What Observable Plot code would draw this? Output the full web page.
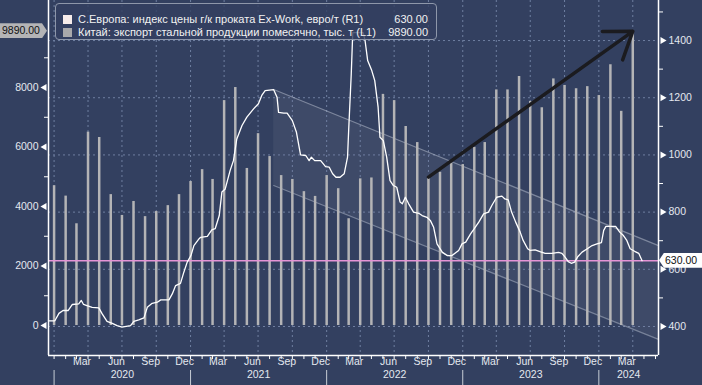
<!DOCTYPE html>
<html><head><meta charset="utf-8">
<script src="https://cdn.jsdelivr.net/npm/d3@7"></script>
<script src="https://cdn.jsdelivr.net/npm/@observablehq/plot@0.6"></script>
<style>
html,body{margin:0;padding:0;background:#334060;}
#wrap{position:relative;width:702px;height:385px;overflow:hidden;font-family:"Liberation Sans",Arial,sans-serif;background:#334060;}
#wrap svg{position:absolute;left:0;top:0;}
#legend{position:absolute;left:55px;top:3px;width:382px;height:37px;box-sizing:border-box;border:1px solid #8e97aa;border-radius:4px;background:rgba(51,64,96,0.82);color:#f2f2f2;font-size:11px;}
.row{position:absolute;left:0;width:380px;height:13px;line-height:13px;white-space:nowrap;}
.sw{position:absolute;left:7px;top:2px;width:9px;height:9px;}
.lab{position:absolute;left:22px;top:0;}
.val{position:absolute;right:8px;top:0;}
.tag{position:absolute;font-size:10.5px;line-height:15px;height:15px;color:#111;box-sizing:border-box;white-space:nowrap;}
</style></head><body><div id="wrap"></div>
<script>
// ---- Data ----
// China steel exports, monthly, thousand t (left axis, L1)
const exportMonths = ["2019-12",
 "2020-01","2020-02","2020-03","2020-04","2020-05","2020-06","2020-07","2020-08","2020-09","2020-10","2020-11","2020-12",
 "2021-01","2021-02","2021-03","2021-04","2021-05","2021-06","2021-07","2021-08","2021-09","2021-10","2021-11","2021-12",
 "2022-01","2022-02","2022-03","2022-04","2022-05","2022-06","2022-07","2022-08","2022-09","2022-10","2022-11","2022-12",
 "2023-01","2023-02","2023-03","2023-04","2023-05","2023-06","2023-07","2023-08","2023-09","2023-10","2023-11","2023-12",
 "2024-01","2024-02","2024-03"];
const exportValues = [4700,
 4350,3420,6500,6320,4400,3700,4170,3660,3830,4030,4400,4840,
 5240,4910,7560,8000,5280,6450,5680,5040,4910,4500,4340,5040,
 4600,3590,4930,4960,7770,7560,6690,6150,4990,5150,5460,5410,
 5990,6150,7920,7920,8370,7530,7320,8290,8070,7960,8030,7730,
 8770,7200,9890];

// N. Europe HRC Ex-Work price index, EUR/t (right axis, R1)
const priceDates = ["2019-12-17","2020-01-03","2020-01-14","2020-01-25","2020-02-08","2020-02-19","2020-03-07","2020-03-14","2020-03-20","2020-03-29",
 "2020-04-12","2020-04-30","2020-05-09","2020-05-22","2020-06-05","2020-06-18","2020-07-01","2020-07-24","2020-08-02","2020-08-15",
 "2020-08-29","2020-09-07","2020-09-20","2020-10-04","2020-10-13","2020-11-04","2020-11-13","2020-11-22","2020-12-05","2020-12-14",
 "2020-12-23","2021-01-02","2021-01-10","2021-01-24","2021-01-28","2021-02-15","2021-02-27","2021-03-08","2021-03-19","2021-03-26",
 "2021-04-04","2021-04-17","2021-04-26","2021-05-05","2021-05-19","2021-06-01","2021-06-19","2021-07-02","2021-07-11","2021-07-20",
 "2021-08-12","2021-08-21","2021-08-25","2021-09-08","2021-09-17","2021-10-01","2021-10-12","2021-10-23","2021-11-06","2021-11-15",
 "2021-11-21","2021-11-30","2021-12-16","2021-12-29","2022-01-08","2022-01-17","2022-01-26","2022-02-06","2022-02-17","2022-02-26",
 "2022-03-01","2022-03-08","2022-03-12","2022-04-09","2022-04-14","2022-04-21","2022-05-02","2022-05-10","2022-05-19","2022-05-24",
 "2022-06-02","2022-06-11","2022-06-20","2022-06-29","2022-07-08","2022-07-17","2022-07-23","2022-07-31","2022-08-09","2022-08-22",
 "2022-09-05","2022-09-14","2022-09-27","2022-10-06","2022-10-15","2022-10-24","2022-11-07","2022-11-20","2022-12-03","2022-12-21",
 "2022-12-30","2023-01-09","2023-01-22","2023-02-01","2023-02-13","2023-02-26","2023-03-11","2023-03-20","2023-04-02","2023-04-16",
 "2023-04-24","2023-05-03","2023-05-12","2023-05-23","2023-06-04","2023-06-12","2023-06-24","2023-07-01","2023-07-14","2023-07-27",
 "2023-08-10","2023-08-28","2023-09-15","2023-09-24","2023-10-03","2023-10-11","2023-10-19","2023-10-28","2023-11-06","2023-11-17",
 "2023-12-01","2023-12-14","2023-12-27","2024-01-08","2024-01-14","2024-01-20","2024-02-15","2024-02-26","2024-03-07","2024-03-16",
 "2024-03-25","2024-04-06","2024-04-17","2024-04-26"];
const priceValues = [420,420,446,456,456,477,479,491,477,473,
 467,465,444,418,411,403,398,403,418,423,
 430,467,481,485,493,493,514,543,551,590,
 625,648,683,707,712,715,738,742,788,870,
 881,945,980,1056,1103,1132,1161,1179,1208,1225,
 1228,1202,1149,1146,1146,1120,1079,1000,998,980,
 992,980,980,959,957,934,922,922,934,992,
 1085,1284,1428,1428,1400,1330,1295,1260,1167,1062,
 1050,992,910,893,887,835,829,852,829,800,
 796,788,782,771,747,689,660,648,648,666,
 689,695,724,742,765,794,800,823,852,856,
 846,843,800,765,730,701,672,666,668,662,
 656,656,659,656,642,627,621,625,645,660,
 672,683,689,693,736,750,750,730,718,701,
 672,663,656,630];

const lastPrice = 630;
const lastExport = 9890;

// Axis ticks
const leftMajor = [0, 2000, 4000, 6000, 8000];
const leftMinor = [1000, 3000, 5000, 7000, 9000];
const rightMajor = [400, 600, 800, 1000, 1200, 1400];
const rightMinor = [500, 700, 900, 1100, 1300, 1500];
const quarterLabels = [
 ["2020-03","Mar"],["2020-06","Jun"],["2020-09","Sep"],["2020-12","Dec"],
 ["2021-03","Mar"],["2021-06","Jun"],["2021-09","Sep"],["2021-12","Dec"],
 ["2022-03","Mar"],["2022-06","Jun"],["2022-09","Sep"],["2022-12","Dec"],
 ["2023-03","Mar"],["2023-06","Jun"],["2023-09","Sep"],["2023-12","Dec"],
 ["2024-03","Mar"]];
const yearLabels = ["2020","2021","2022","2023","2024"];

// Annotations: declining channel (price units) and export trend arrow
const channelDates = ["2021-08-12", "2024-06-09"];
const channelUpper = [1229, 683];
const channelLower = [893, 355];
const arrowFromMonth = "2022-09";
const arrowToMonth = "2024-03";

// ---- Scales setup ----
const parseM = d3.utcParse("%Y-%m");
const parseD = d3.utcParse("%Y-%m-%d");
const xDomain = [parseD("2019-12-17"), parseD("2024-06-09")];
const yDomain = [298.6, 1540];
// left axis (thousand t) aligned onto right axis (EUR/t): R = R0 + K * L
const R0 = 403.5, K = 0.10402;
const toR = L => R0 + K * L;

const bars = exportMonths.map((m, i) => ({month: m, date: d3.utcMonth.offset(parseM(m), 1), value: exportValues[i]}));
const price = priceDates.map((d, i) => ({date: parseD(d), value: priceValues[i]}));
const channel = channelDates.map((d, i) => ({date: parseD(d), upper: channelUpper[i], lower: channelLower[i]}));
const barOf = m => bars.find(b => b.month === m);
const arrowData = [{from: barOf(arrowFromMonth), to: barOf(arrowToMonth)}];
const monthStarts = d3.utcMonth.range(d3.utcMonth.ceil(xDomain[0]), xDomain[1]);
const quarterStarts = monthStarts.filter(d => d.getUTCMonth() % 3 === 0);
const yearStarts = yearLabels.map(y => d3.utcParse("%Y")(y));
const yearMid = yearStarts.map(s => {
  const e = d3.utcYear.offset(s, 1);
  const a = Math.max(+s, +xDomain[0]), b = Math.min(+e, +xDomain[1]);
  return {date: new Date((a + b) / 2), label: String(s.getUTCFullYear())};
});
const qLabels = quarterLabels.map(([m, l]) => ({date: d3.utcDay.offset(parseM(m), 15), label: l}));

const gridColor = "#6f7ea0";
const txt = "#e4e8ef";

const plot = Plot.plot({
  width: 702, height: 385,
  marginLeft: 48, marginRight: 44, marginTop: 0, marginBottom: 30,
  style: {background: "transparent", color: txt, fontFamily: "Liberation Sans, Arial, sans-serif", fontSize: "10.5px", overflow: "visible"},
  x: {type: "utc", domain: xDomain, axis: null},
  y: {domain: yDomain, axis: null},
  marks: [
    Plot.areaY(channel, {x: "date", y1: "lower", y2: "upper", fill: "#ffffff", fillOpacity: 0.055}),
    Plot.ruleY(rightMajor, {stroke: gridColor, strokeDasharray: "2,3"}),
    Plot.ruleX(quarterStarts, {stroke: gridColor, strokeDasharray: "2,3"}),
    Plot.line(channel, {x: "date", y: "upper", stroke: "#c9d0de", strokeOpacity: 0.45, strokeWidth: 1.2}),
    Plot.line(channel, {x: "date", y: "lower", stroke: "#c9d0de", strokeOpacity: 0.45, strokeWidth: 1.2}),
    Plot.ruleX(bars, {x: "date", y1: () => toR(0), y2: d => toR(d.value), stroke: "#b4b4b6", strokeWidth: 2.5}),
    Plot.ruleY([lastPrice], {stroke: "#e594d6", strokeWidth: 1.5}),
    Plot.line(price, {x: "date", y: "value", stroke: "#ffffff", strokeWidth: 1.3}),
    Plot.arrow(arrowData, {x1: d => d.from.date, y1: d => toR(d.from.value), x2: d => d.to.date, y2: d => toR(d.to.value),
      stroke: "#1b1b1f", strokeWidth: 3.5, headLength: 13, headAngle: 70}),
    // frame lines
    Plot.ruleX([xDomain[0]], {stroke: "#ffffff", strokeWidth: 1.5}),
    Plot.ruleX([xDomain[1]], {stroke: "#ffffff", strokeWidth: 1.5}),
    Plot.ruleY([yDomain[0]], {stroke: "#ffffff", strokeWidth: 1.5}),
    // left axis
    Plot.axisY({anchor: "left", ticks: leftMinor.map(toR), tickSize: 4, tickFormat: () => "", stroke: "#ffffff"}),
    Plot.dot(leftMajor, {y: d => toR(d), frameAnchor: "left", symbol: "triangle", r: 2.6, rotate: -90, fill: "#ffffff", stroke: null, dx: -4}),
    Plot.text(leftMajor, {y: d => toR(d), text: d => String(d), frameAnchor: "left", textAnchor: "end", dx: -10, fill: txt}),
    // right axis
    Plot.axisY({anchor: "right", ticks: rightMinor, tickSize: 4, tickFormat: () => "", stroke: "#ffffff"}),
    Plot.dot(rightMajor, {y: d => d, frameAnchor: "right", symbol: "triangle", r: 2.6, rotate: 90, fill: "#ffffff", stroke: null, dx: 4}),
    Plot.text(rightMajor, {y: d => d, text: d => String(d), frameAnchor: "right", textAnchor: "start", dx: 10, fill: txt}),
    // bottom axis
    Plot.axisX({anchor: "bottom", ticks: monthStarts, tickSize: 4, tickFormat: () => "", stroke: "#ffffff"}),
    Plot.text(qLabels, {x: "date", text: "label", frameAnchor: "bottom", dy: 9, fill: txt}),
    Plot.text(yearMid, {x: "date", text: "label", frameAnchor: "bottom", dy: 22, fill: txt}),
    Plot.axisX({anchor: "bottom", ticks: yearStarts, tickSize: 15, dy: 15, tickFormat: () => "", stroke: "#c7ccd6"})
  ]
});

const wrap = document.getElementById("wrap");
wrap.appendChild(plot);

// legend
const legend = document.createElement("div");
legend.id = "legend";
legend.innerHTML =
  `<div class="row" style="top:9px"><div class="sw" style="background:#f7ecea"></div><span class="lab">С.Европа: индекс цены г/к проката Ex-Work, евро/т (R1)</span><span class="val">${lastPrice.toFixed(2)}</span></div>` +
  `<div class="row" style="top:22px"><div class="sw" style="background:#a9a9ab"></div><span class="lab">Китай: экспорт стальной продукции помесячно, тыс. т (L1)</span><span class="val">${lastExport.toFixed(2)}</span></div>`;
wrap.appendChild(legend);

// last-value tags positioned with the plot's own y scale
const ys = plot.scale("y");
const tagR = document.createElement("div");
tagR.className = "tag";
tagR.textContent = lastPrice.toFixed(2);
Object.assign(tagR.style, {left: "659px", top: (ys.apply(lastPrice) - 7.5) + "px", width: "43px", paddingLeft: "6px",
  background: "#ffffff", clipPath: "polygon(0 50%, 5px 0, 100% 0, 100% 100%, 5px 100%)"});
wrap.appendChild(tagR);
const tagL = document.createElement("div");
tagL.className = "tag";
tagL.textContent = lastExport.toFixed(2);
Object.assign(tagL.style, {left: "0px", top: (ys.apply(toR(lastExport)) - 7.5) + "px", width: "47px", paddingLeft: "2px",
  background: "#b4b4b6", clipPath: "polygon(0 0, calc(100% - 5px) 0, 100% 50%, calc(100% - 5px) 100%, 0 100%)"});
wrap.appendChild(tagL);
</script></body></html>
